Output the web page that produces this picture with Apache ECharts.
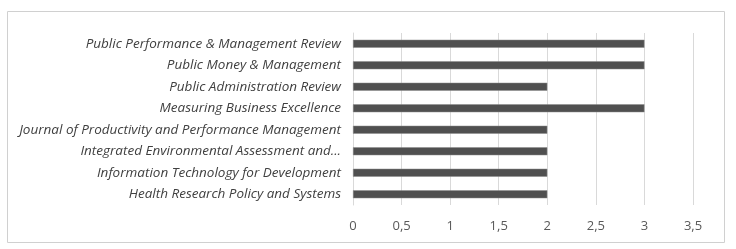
<!DOCTYPE html>
<html>
<head>
<meta charset="utf-8">
<script src="https://cdn.jsdelivr.net/npm/echarts@6/dist/echarts.min.js"></script>
<style>
html, body { margin: 0; padding: 0; background: #fff; }
#chart { width: 736px; height: 249px; }
</style>
</head>
<body>
<div id="chart"></div>
<script>
// journals, bottom to top as on the axis
var journals = [
    'Health Research Policy and Systems',
    'Information Technology for Development',
    'Integrated Environmental Assessment and...',
    'Journal of Productivity and Performance Management',
    'Measuring Business Excellence',
    'Public Administration Review',
    'Public Money & Management',
    'Public Performance & Management Review'
];
var counts = [2, 2, 2, 2, 3, 2, 3, 3];
var xTicks = [0, 0.5, 1, 1.5, 2, 2.5, 3, 3.5];

var chart = echarts.init(document.getElementById('chart'));
var option = {
    animation: false,
    graphic: [{
        type: 'rect',
        shape: { x: 7.5, y: 11.5, width: 717, height: 231 },
        style: { fill: 'none', stroke: '#d0d0d0', lineWidth: 1 }
    }],
    grid: { left: 353, right: 43, top: 33, bottom: 44 },
    xAxis: {
        type: 'value',
        min: xTicks[0],
        max: xTicks[xTicks.length - 1],
        interval: 0.5,
        axisLine: { show: false },
        axisTick: { show: false },
        splitLine: { lineStyle: { color: '#d9d9d9', width: 1 } },
        axisLabel: {
            color: '#595959',
            fontFamily: 'Open Sans',
            fontSize: 13,
            margin: 15,
            formatter: function (v) { return String(v).replace('.', ','); }
        }
    },
    yAxis: {
        type: 'category',
        data: journals,
        axisLine: { show: true, lineStyle: { color: '#d9d9d9' } },
        axisTick: { show: false },
        axisLabel: {
            color: '#404040',
            fontFamily: 'Open Sans',
            fontStyle: 'italic',
            fontSize: 13.5,
            margin: 12
        }
    },
    series: [{
        type: 'bar',
        data: counts,
        barWidth: 8,
        itemStyle: { color: '#505050', borderColor: '#8a8a8a', borderWidth: 0.5 }
    }]
};
chart.setOption(option);
</script>
</body>
</html>
